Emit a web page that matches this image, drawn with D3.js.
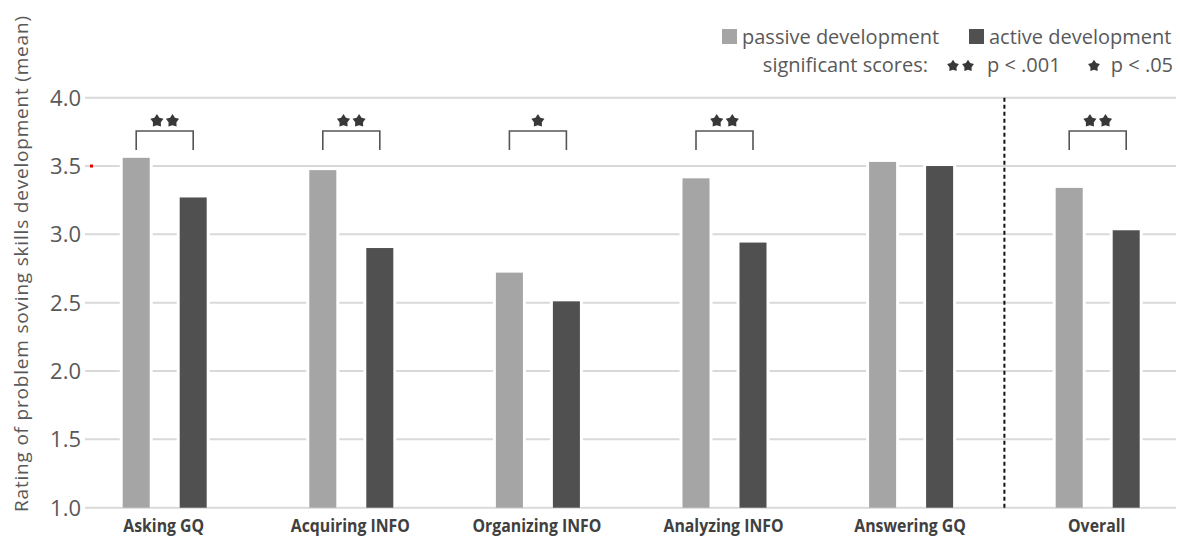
<!DOCTYPE html>
<html>
<head>
<meta charset="utf-8">
<script src="https://cdn.jsdelivr.net/npm/d3@7"></script>
<style>
  body { margin: 0; background: #fff; }
  svg text { font-family: "Open Sans", sans-serif; }
</style>
</head>
<body>
<div id="chart"></div>
<script>
// data
const categories = ['Asking GQ', 'Acquiring INFO', 'Organizing INFO', 'Analyzing INFO', 'Answering GQ', 'Overall'];
const passive = [3.56, 3.47, 2.72, 3.41, 3.53, 3.34];
const active = [3.27, 2.90, 2.51, 2.94, 3.50, 3.03];
const significance = [2, 2, 1, 2, 0, 2]; // number of stars
const yTicks = [1.0, 1.5, 2.0, 2.5, 3.0, 3.5, 4.0];
const seriesNames = ['passive development', 'active development'];

const W = 1180, H = 539;
const colors = { passive: '#a5a5a5', active: '#505050' };

const svg = d3.select('#chart').append('svg')
  .attr('width', W).attr('height', H);

const x = d3.scaleBand().domain(categories).range([71.4, 1191]);
const xSub = d3.scaleBand().domain(['passive', 'active'])
  .range([0, x.bandwidth()]).paddingInner(0.526).paddingOuter(0.9);
const y = d3.scaleLinear().domain([1, 4]).range([507.7, 97.7]);

// chunky little star, like the reference's asterisks
const chunkyStar = {
  draw(ctx, size) {
    const r = Math.sqrt(size / 2.2), ri = r * 0.6;
    for (let i = 0; i < 10; i++) {
      const a = -Math.PI / 2 + i * Math.PI / 5;
      const rr = i % 2 ? ri : r;
      if (i === 0) ctx.moveTo(rr * Math.cos(a), rr * Math.sin(a));
      else ctx.lineTo(rr * Math.cos(a), rr * Math.sin(a));
    }
    ctx.closePath();
  }
};

// gridlines
svg.append('g').selectAll('line').data(yTicks).enter().append('line')
  .attr('x1', 85).attr('x2', 1176)
  .attr('y1', d => y(d)).attr('y2', d => y(d))
  .attr('stroke', '#d9d9d9').attr('stroke-width', 2);

// tick labels
svg.append('g').selectAll('text').data(yTicks).enter().append('text')
  .attr('x', 81).attr('y', d => y(d)).attr('dy', '0.36em')
  .attr('text-anchor', 'end')
  .style('font-size', '22px').attr('fill', '#595959')
  .text(d => d.toFixed(1));

// odd little red mark on the 3.5 line
svg.append('rect').attr('x', 90).attr('y', y(3.5) - 1.5).attr('width', 3).attr('height', 3).attr('fill', '#e00000');

// y title
svg.append('text')
  .attr('transform', `translate(28,${264}) rotate(-90)`)
  .attr('text-anchor', 'middle')
  .attr('textLength', 496).attr('lengthAdjust', 'spacing')
  .style('font-size', '19px').attr('fill', '#595959')
  .text('Rating of problem soving skills development (mean)');

const rows = categories.map((c, i) => ({ cat: c, passive: passive[i], active: active[i], sig: significance[i] }));

const groups = svg.append('g').selectAll('g').data(rows).enter().append('g')
  .attr('transform', d => `translate(${x(d.cat)},0)`);

['passive', 'active'].forEach(k => {
  // white halo that breaks the gridlines around each bar
  groups.append('rect')
    .attr('x', xSub(k) - 3).attr('width', xSub.bandwidth() + 6)
    .attr('y', d => y(d[k]) - 3).attr('height', d => y(1) - y(d[k]) + 2)
    .attr('fill', '#fff');
  groups.append('rect')
    .attr('x', xSub(k)).attr('width', xSub.bandwidth())
    .attr('y', d => y(d[k])).attr('height', d => y(1) - y(d[k]))
    .attr('fill', colors[k]);
});

// significance brackets
const sigRows = groups.filter(d => d.sig > 0);
const cx1 = xSub('passive') + xSub.bandwidth() / 2;
const cx2 = xSub('active') + xSub.bandwidth() / 2;
sigRows.append('path')
  .attr('d', `M${cx1},150 V131 H${cx2} V150`)
  .attr('fill', 'none').attr('stroke', '#555').attr('stroke-width', 1.6);

const star = d3.symbol().type(chunkyStar).size(105);
sigRows.each(function (d) {
  const g = d3.select(this);
  const mid = (cx1 + cx2) / 2;
  for (let s = 0; s < d.sig; s++) {
    const sx = mid + (s - (d.sig - 1) / 2) * 15.6;
    g.append('path').attr('d', star).attr('transform', `translate(${sx},121)`).attr('fill', '#383838');
  }
});

// dashed separator before Overall
svg.append('line')
  .attr('x1', x('Overall')).attr('x2', x('Overall'))
  .attr('y1', y(4)).attr('y2', y(1))
  .attr('stroke', '#111').attr('stroke-width', 2).attr('stroke-dasharray', '4,3');

// category labels (narrowed to mimic a condensed bold face)
svg.append('g').selectAll('text').data(categories).enter().append('text')
  .attr('transform', d => `translate(${x(d) + x.bandwidth() / 2 - 1},532) scale(0.88,1)`)
  .attr('text-anchor', 'middle')
  .style('font-size', '18px').style('font-weight', 'bold').attr('fill', '#404040')
  .text(d => d);

// legend
const legend = svg.append('g');
legend.append('rect').attr('x', 722).attr('y', 29).attr('width', 15).attr('height', 15).attr('fill', colors.passive);
legend.append('text').attr('x', 742).attr('y', 37).attr('dy', '0.36em')
  .style('font-size', '20px').attr('fill', '#595959').text(seriesNames[0]);
legend.append('rect').attr('x', 969).attr('y', 29).attr('width', 15).attr('height', 15).attr('fill', colors.active);
legend.append('text').attr('x', 989).attr('y', 37).attr('dy', '0.36em')
  .style('font-size', '20px').attr('fill', '#595959').text(seriesNames[1]);

legend.append('text').attr('x', 928).attr('y', 65).attr('dy', '0.36em').attr('text-anchor', 'end')
  .style('font-size', '20px').attr('fill', '#595959').text('significant scores:');
[953, 968, 1094].forEach(sx => {
  legend.append('path').attr('d', d3.symbol().type(chunkyStar).size(85))
    .attr('transform', `translate(${sx},66)`).attr('fill', '#383838');
});
legend.append('text').attr('x', 987).attr('y', 65).attr('dy', '0.36em')
  .style('font-size', '20px').attr('fill', '#595959').text('p < .001');
legend.append('text').attr('x', 1173).attr('y', 65).attr('dy', '0.36em').attr('text-anchor', 'end')
  .style('font-size', '20px').attr('fill', '#595959').text('p < .05');
</script>
</body>
</html>
